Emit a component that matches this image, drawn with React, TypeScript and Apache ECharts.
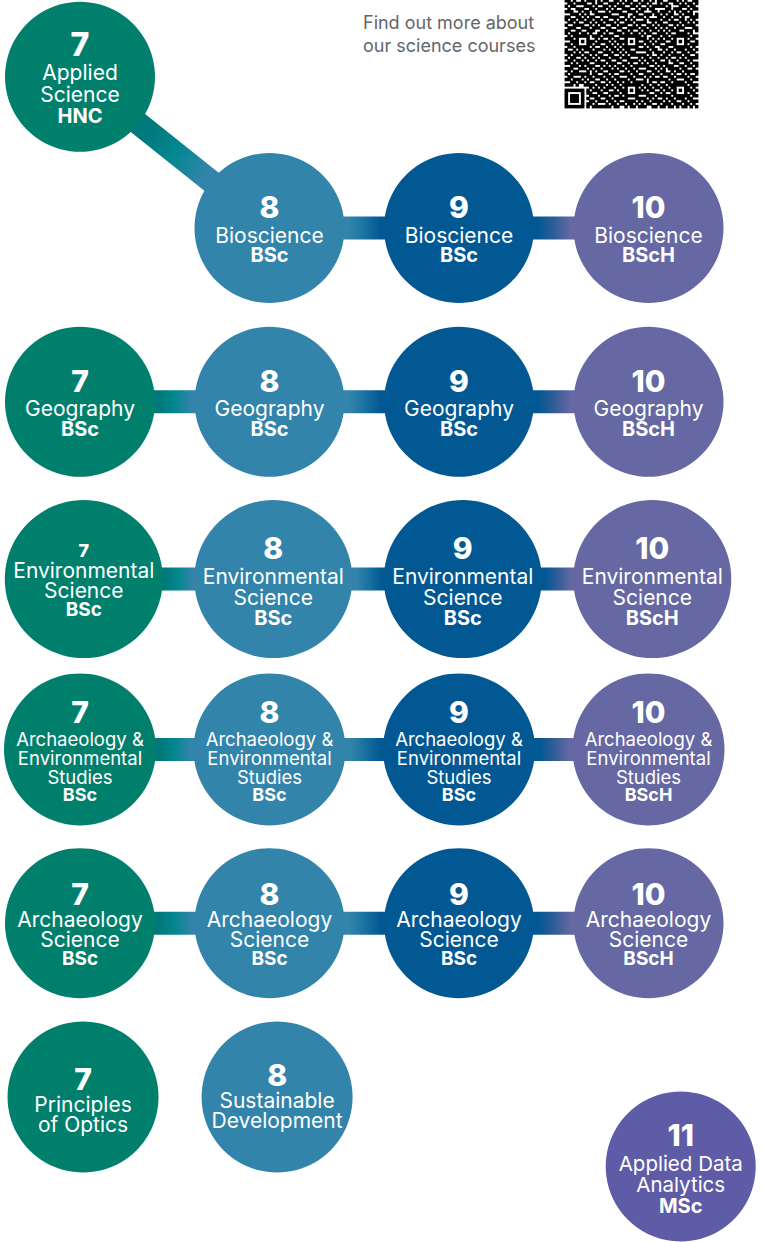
import React, { useEffect, useRef } from "react";
import * as echarts from "echarts";

// ---------- DATA ----------
const courseLevels = [7, 8, 9, 10, 7, 8, 9, 10, 7, 8, 9, 10, 7, 8, 9, 10, 7, 8, 9, 10, 7, 8, 11];
const courseNames = [
  "Applied\nScience",
  "Bioscience", "Bioscience", "Bioscience",
  "Geography", "Geography", "Geography", "Geography",
  "Environmental\nScience", "Environmental\nScience", "Environmental\nScience", "Environmental\nScience",
  "Archaeology &\nEnvironmental\nStudies", "Archaeology &\nEnvironmental\nStudies", "Archaeology &\nEnvironmental\nStudies", "Archaeology &\nEnvironmental\nStudies",
  "Archaeology\nScience", "Archaeology\nScience", "Archaeology\nScience", "Archaeology\nScience",
  "Principles\nof Optics", "Sustainable\nDevelopment", "Applied Data\nAnalytics",
];
const qualifications = [
  "HNC", "BSc", "BSc", "BScH",
  "BSc", "BSc", "BSc", "BScH",
  "BSc", "BSc", "BSc", "BScH",
  "BSc", "BSc", "BSc", "BScH",
  "BSc", "BSc", "BSc", "BScH",
  "", "", "MSc",
];
// grid position of each course (step across, row down)
const pathwayStep = [0, 1, 2, 3, 0, 1, 2, 3, 0.02, 1.02, 2.02, 3.02, 0, 1, 2, 3, 0, 1, 2, 3, 0.016, 1.04, 3.17];
const pathwayRow = [0.13, 1, 1, 1, 2, 2, 2, 2, 3.02, 3.02, 3.02, 3.02, 4, 4, 4, 4, 5, 5, 5, 5, 6, 6, 6.4];
// progression links: [from, to]
const progressionLinks = [
  [0, 1], [1, 2], [2, 3],
  [4, 5], [5, 6], [6, 7],
  [8, 9], [9, 10], [10, 11],
  [12, 13], [13, 14], [14, 15],
  [16, 17], [17, 18], [18, 19],
];
const infoText = ["Find out more about", "our science courses"];

// ---------- STYLE ----------
const levelColors: Record<number, string> = {
  7: "#007f6d",
  8: "#3384ab",
  9: "#025893",
  10: "#6568a2",
  11: "#5f5ca7",
};
const linkStart: Record<string, string> = {
  "7-8": "#00797a",
};
const linkMid: Record<string, string> = {
  "7-8": "#03878f",
  "8-9": "#1a72a2",
  "9-10": "#2f5d97",
};

type Preset = { key: string; num: [number, number]; name: [number, number]; qual: [number, number] };
const PRESETS: Record<string, Preset> = {
  top: { key: "top", num: [32, 34], name: [21, 22], qual: [20, 21] },
  one: { key: "one", num: [30, 36], name: [21, 20], qual: [20, 20] },
  env: { key: "env", num: [30, 36], name: [21, 21], qual: [20, 21] },
  envs: { key: "envs", num: [18, 20], name: [21, 20], qual: [19, 18] },
  ae: { key: "ae", num: [30, 34], name: [18.5, 19], qual: [18, 17] },
  arch: { key: "arch", num: [30, 30], name: [21, 20], qual: [19, 18] },
  plain: { key: "plain", num: [30, 30], name: [21, 20], qual: [19, 20] },
  msc: { key: "msc", num: [30, 36], name: [20.5, 21], qual: [20, 21] },
};
function presetFor(i: number): Preset {
  if (i === 0) return PRESETS.top;
  if (i <= 7) return PRESETS.one;
  if (i === 8) return PRESETS.envs;
  if (i <= 11) return PRESETS.env;
  if (i <= 15) return PRESETS.ae;
  if (i <= 19) return PRESETS.arch;
  if (i <= 21) return PRESETS.plain;
  return PRESETS.msc;
}
function offsetFor(i: number): number {
  if (i >= 1 && i <= 7) return -1;
  if (i === 20) return 2;
  if (i === 21) return -2;
  return 0;
}
function diameterFor(i: number): number {
  const r = pathwayRow[i];
  if (r > 2.5 && r < 3.5) return 158;
  if (r === 4) return 152;
  if (r === 6) return 151;
  return 150;
}

// QR-style decoration (bitmap rows)
const qrRows = [
  "1101001 0111010 1100110 1011001 0110101 1001110 1010011",
  "0110111 1001011 0011101 0110110 1101001 0110011 0101101",
  "1011000 1110100 1101011 1001101 0010111 1101000 1110110",
  "0100111 0011011 1010100 1110010 1101100 0011011 1001011",
  "1110010 1101100 0101111 0011101 1000110 1110101 0110100",
  "0011101 0100111 1110001 1100110 0111011 0101100 1011101",
  "1100110 1011001 0011110 0101011 1010001 1011011 0100111",
  "1011011 0110110 1100101 1010100 0101111 0110100 1101010",
  "0110100 1101011 0111010 0111011 1100101 1001111 0110101",
  "1001111 0010101 1001101 1100101 0011010 1110010 1011110",
  "0111001 1101110 0110011 0011110 1101101 0101101 1100011",
  "1100110 0111001 1011100 1101001 0110110 1010111 0011101",
  "1011101 1010011 0100111 0110110 1011001 1101001 1110100",
  "0101011 0101110 1111001 1011011 0100111 0110110 0101011",
  "1110100 1100101 0010110 0101101 1101010 1011011 1010110",
  "0011011 0111011 1101011 1110010 0110101 1100101 0111001",
  "1101100 1010110 0110101 0011101 1011011 0011110 1100111",
  "0110111 0101001 1011010 1101110 0101100 1110011 0011010",
  "1001010 1110111 0101101 0110011 1110110 0101101 1101101",
  "1110101 0011100 1110110 1011100 0011011 1011010 0110110",
  "0101110 1101011 0011001 0101111 1101001 0110111 1011001",
  "1011001 0110101 1101110 1110001 0110110 1101001 0101111",
  "0110110 1011010 0110011 0011110 1011011 0010110 1110100",
  "1101011 1100111 1011100 1101001 0101101 1110011 0011011",
  "0011101 0111001 0101011 0110111 1110010 1011100 1101101",
  "1110011 1010110 1110101 1011010 0011101 0101111 0110010",
  "0101100 0101011 0011110 0101101 1100110 1100101 1011111",
  "1011111 1101100 1101001 1110110 0111011 0111010 0101001",
  "0110001 0110111 0110110 0011011 1010100 1001101 1110110",
  "1101110 1011001 1011011 1101100 0101111 1110110 0011011",
  "0011011 0100110 0101101 0110111 1101001 0011011 1101100",
  "1110100 1111011 1010110 1011001 0110110 1101100 0110111",
  "0101011 0010101 0111011 0100110 1011011 0110111 1011010",
  "1100101 1101110 1100101 1111011 0101100 1011001 0101101",
  "0111010 0110011 0011110 1010101 1110011 0100110 1110110",
  "1010111 1011101 1101001 0101110 0011101 1111011 0011011",
  "0101101 0100110 0110111 1100011 1101010 0101101 1101100",
  "1111010 1011011 1011010 0111101 0110111 1010110 0110111",
  "0010111 0110100 0101101 1011010 1011001 0111011 1011010",
  "1101001 1101111 1110110 0101101 1100110 1101101 0110101",
];

function buildQr(): any[] {
  const grid = qrRows.map((r) => r.replace(/ /g, "").split("").map((c) => c === "1"));
  const rows = grid.length;
  const cols = grid[0].length;
  const set = (r: number, c: number, v: boolean) => {
    if (r >= 0 && r < rows && c >= 0 && c < cols) grid[r][c] = v;
  };
  const fr = rows - 7;
  for (let r = -1; r < 7; r++) for (let c = 0; c < 8; c++) set(fr + r, c, false);
  for (let r = 0; r < 7; r++)
    for (let c = 0; c < 7; c++) {
      const edge = r === 0 || r === 6 || c === 0 || c === 6;
      const core = r >= 2 && r <= 4 && c >= 2 && c <= 4;
      set(fr + r, c, edge || core);
    }
  const aligns = [[15, 6], [15, 24], [15, 42], [33, 24], [33, 42]];
  aligns.forEach(([cr, cc]) => {
    for (let r = -2; r <= 2; r++)
      for (let c = -2; c <= 2; c++) {
        const ring = Math.max(Math.abs(r), Math.abs(c));
        set(cr + r, cc + c, ring !== 1);
      }
  });
  const m = 133 / 49;
  const x0 = 565;
  const y0 = 108 - rows * m;
  const els: any[] = [];
  const g = 0.4;
  for (let r = 0; r < rows; r++) {
    let c = 0;
    while (c < cols) {
      if (grid[r][c]) {
        let e = c;
        while (e + 1 < cols && grid[r][e + 1]) e++;
        els.push({
          type: "rect",
          shape: { x: x0 + c * m - g, y: y0 + r * m - g, width: (e - c + 1) * m + 2 * g, height: m + 2 * g },
          style: { fill: "#000" },
          silent: true,
        });
        c = e + 1;
      } else c++;
    }
  }
  return els;
}

// axis mapping (data units -> page)
const STEP_PX = 189.5;
const ROW_PX = 173.8;
const W = 763;
const H = 1242;
const xMin = -80 / STEP_PX;
const xMax = xMin + W / STEP_PX;
const yMin = 1 - 228 / ROW_PX;
const yMax = yMin + H / ROW_PX;

const FONT = "Inter, 'Noto Sans', sans-serif";

function buildOption(): any {
  const rich: Record<string, any> = {};
  Object.values(PRESETS).forEach((p) => {
    rich["n" + p.key] = { fontFamily: FONT, fontWeight: 800, fontSize: p.num[0], lineHeight: p.num[1], color: "#fff", align: "center" };
    rich["t" + p.key] = { fontFamily: FONT, fontWeight: 400, fontSize: p.name[0], lineHeight: p.name[1], color: "#fff", align: "center" };
    rich["q" + p.key] = { fontFamily: FONT, fontWeight: 700, fontSize: p.qual[0], lineHeight: p.qual[1], color: "#fff", align: "center" };
  });

  const nodes = courseLevels.map((lvl, i) => ({
    value: [pathwayStep[i], pathwayRow[i]],
    symbolSize: diameterFor(i),
    itemStyle: { color: levelColors[lvl], opacity: 1 },
    label: { offset: [0, offsetFor(i)] },
  }));

  const linkData = progressionLinks.map(([a, b]) => [pathwayStep[a], pathwayRow[a], pathwayStep[b], pathwayRow[b]]);

  return {
    animation: false,
    backgroundColor: "#ffffff",
    title: {
      text: infoText.join("\n"),
      left: 363,
      top: 11,
      padding: 0,
      textStyle: { fontFamily: FONT, fontSize: 18, fontWeight: 400, lineHeight: 23, color: "#63666a" },
    },
    grid: { left: 0, right: 0, top: 0, bottom: 0 },
    xAxis: { type: "value", min: xMin, max: xMax, show: false },
    yAxis: { type: "value", min: yMin, max: yMax, inverse: true, show: false },
    graphic: [{ type: "group", children: buildQr() }],
    series: [
      {
        type: "custom",
        z: 1,
        clip: false,
        encode: { x: [0, 2], y: [1, 3] },
        data: linkData,
        renderItem: (params: any, api: any) => {
          const [ia, ib] = progressionLinks[params.dataIndex];
          const a = api.coord([api.value(0), api.value(1)]);
          const b = api.coord([api.value(2), api.value(3)]);
          const dx = b[0] - a[0];
          const dy = b[1] - a[1];
          const len = Math.sqrt(dx * dx + dy * dy);
          const ux = dx / len;
          const uy = dy / len;
          const px = -uy;
          const py = ux;
          const hw = 11.5;
          const ra = diameterFor(ia) / 2;
          const rb = diameterFor(ib) / 2;
          const ea = [a[0] + ux * ra, a[1] + uy * ra];
          const eb = [b[0] - ux * rb, b[1] - uy * rb];
          const la = courseLevels[ia];
          const lb = courseLevels[ib];
          const key = la + "-" + lb;
          const start = linkStart[key] || levelColors[la];
          const mid = linkMid[key] || levelColors[lb];
          const fill = new echarts.graphic.LinearGradient(
            ea[0], ea[1], eb[0], eb[1],
            [
              { offset: 0, color: start },
              { offset: 0.12, color: start },
              { offset: 0.5, color: mid },
              { offset: 0.92, color: levelColors[lb] },
              { offset: 1, color: levelColors[lb] },
            ],
            true
          );
          return {
            type: "polygon",
            shape: {
              points: [
                [a[0] + px * hw, a[1] + py * hw],
                [b[0] + px * hw, b[1] + py * hw],
                [b[0] - px * hw, b[1] - py * hw],
                [a[0] - px * hw, a[1] - py * hw],
              ],
            },
            style: { fill },
          };
        },
      },
      {
        type: "scatter",
        z: 2,
        symbol: "circle",
        itemStyle: { opacity: 1 },
        data: nodes,
        label: {
          show: true,
          position: "inside",
          rich,
          formatter: (p: any) => {
            const i = p.dataIndex;
            const k = presetFor(i).key;
            const parts = ["{n" + k + "|" + courseLevels[i] + "}"];
            courseNames[i].split("\n").forEach((line) => parts.push("{t" + k + "|" + line + "}"));
            if (qualifications[i]) parts.push("{q" + k + "|" + qualifications[i] + "}");
            return parts.join("\n");
          },
        },
        emphasis: { disabled: true },
      },
    ],
  };
}

export default function App() {
  const ref = useRef<HTMLDivElement>(null);
  useEffect(() => {
    if (!ref.current) return;
    const chart = echarts.init(ref.current, undefined, { renderer: "svg" });
    chart.setOption(buildOption());
    return () => chart.dispose();
  }, []);
  return (
    <div
      ref={ref}
      style={{ position: "absolute", left: 0, top: 0, width: W, height: H, background: "#fff" }}
    />
  );
}
